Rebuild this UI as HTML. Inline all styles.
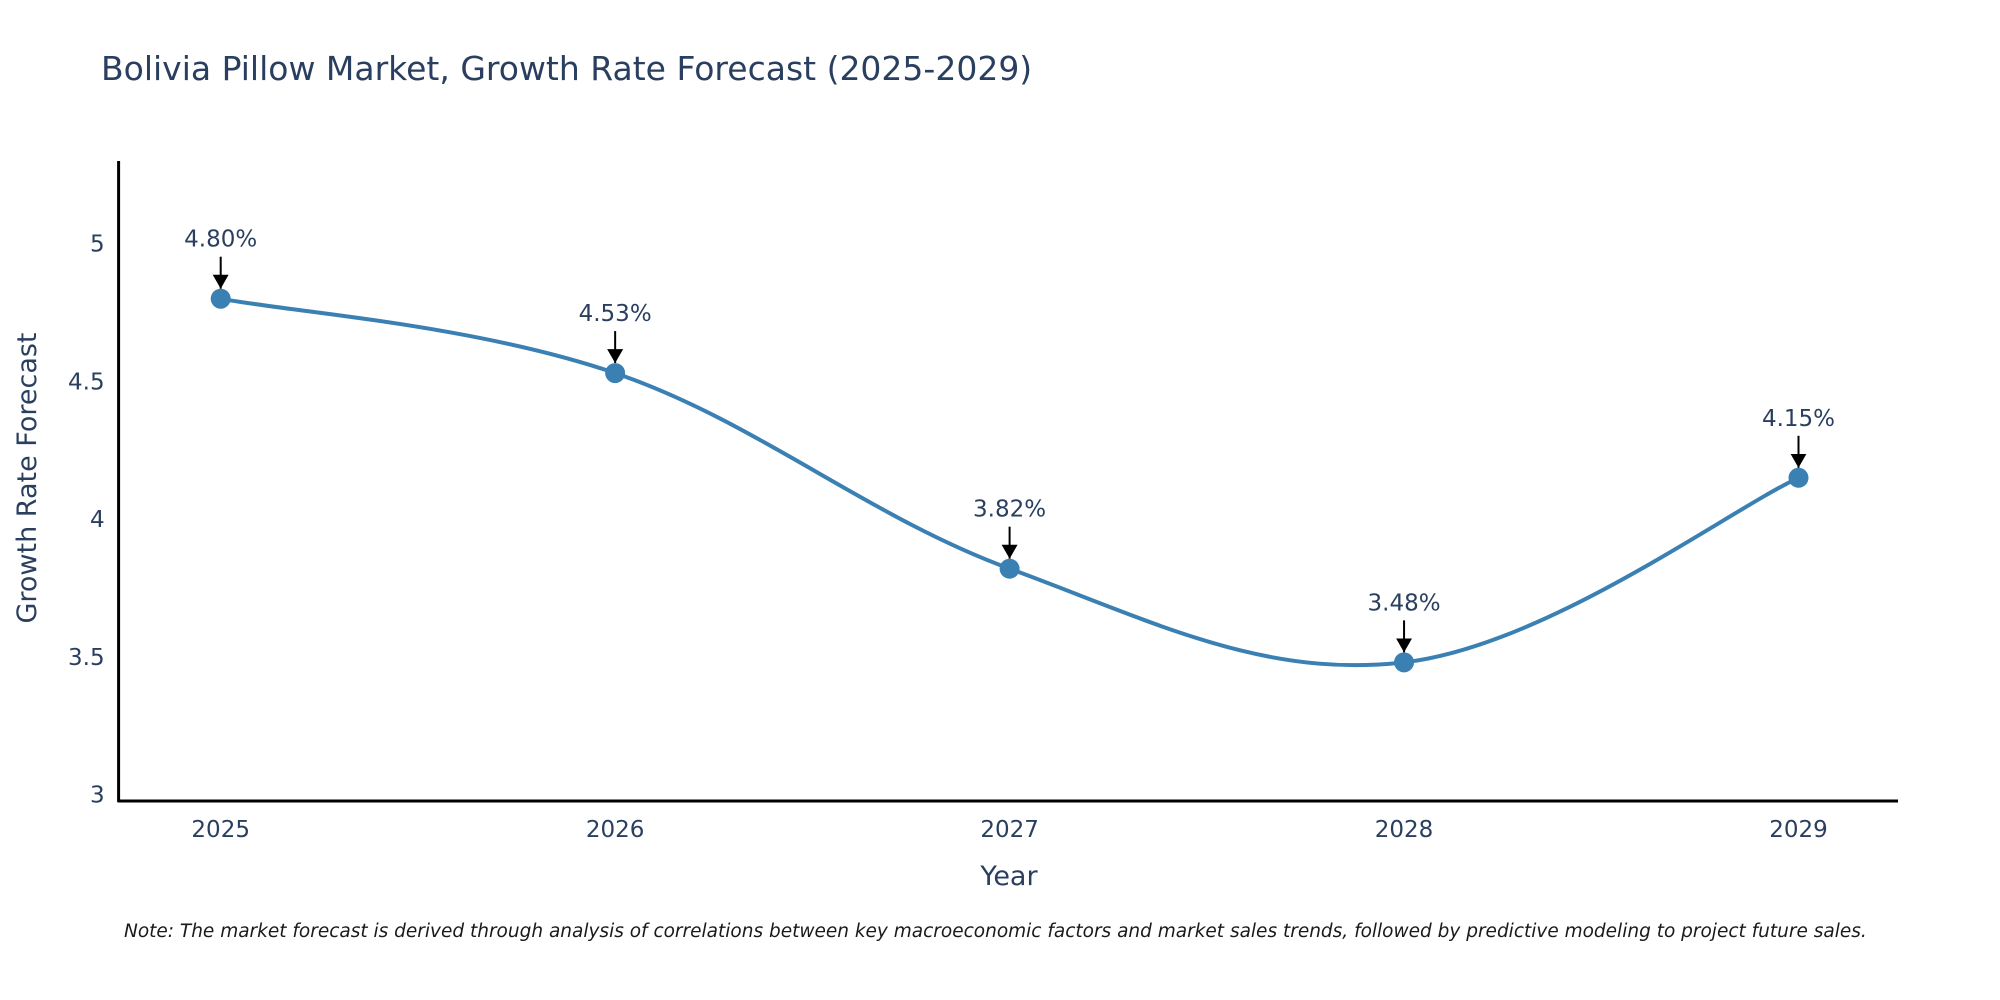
<!DOCTYPE html>
<html><head><meta charset="utf-8"><style>
html,body{margin:0;padding:0;background:#fff;}
svg{display:block;font-family:"DejaVu Sans","Liberation Sans",sans-serif;}
</style></head><body>
<svg id="chart" width="2000" height="1000" viewBox="0 0 2000 1000">
<defs>
<marker id="arr" markerWidth="16" markerHeight="14" refX="8" refY="14" orient="0" markerUnits="userSpaceOnUse"><path d="M0,0 L16,0 L8,14 z" fill="#000"/></marker></defs>
<text x="101" y="80" font-size="33" fill="#2a3f5f">Bolivia Pillow Market, Growth Rate Forecast (2025-2029)</text>
<g id="plot"></g>
<text x="36" y="478" font-size="27" fill="#2a3f5f" text-anchor="middle" transform="rotate(-90 36 478)">Growth Rate Forecast</text>
<text x="1009" y="885" font-size="27" fill="#2a3f5f" text-anchor="middle">Year</text>
<text x="124" y="937" font-size="18.5" font-style="italic" fill="#1a1a1a">Note: The market forecast is derived through analysis of correlations between key macroeconomic factors and market sales trends, followed by predictive modeling to project future sales.</text>
</svg>
<script>
const years = [2025, 2026, 2027, 2028, 2029];
const values = [4.80, 4.53, 3.82, 3.48, 4.15];
const labels = ["4.80%", "4.53%", "3.82%", "3.48%", "4.15%"];
const yTicks = [3, 3.5, 4, 4.5, 5];
const yTickLabels = ["3", "3.5", "4", "4.5", "5"];

const NS = "http://www.w3.org/2000/svg";
const g = document.getElementById("plot");
const X0 = 118.6, X1 = 1898, Ytop = 161, Ybot = 801;
function xs(v){ return 220.7 + (v - 2025) * 394.45; }
function ys(v){ return 794.6 - (v - 3) * 275.5; }
function mk(tag, attrs){ const e = document.createElementNS(NS, tag); for (const k in attrs) e.setAttribute(k, attrs[k]); g.appendChild(e); return e; }

yTicks.forEach((t, i) => {
  const e = mk("text", {x: X0 - 14, y: ys(t) + 8, "font-size": 23, fill: "#2a3f5f", "text-anchor": "end"});
  e.textContent = yTickLabels[i];
  
  
});
years.forEach(y => {
  const e = mk("text", {x: xs(y), y: Ybot + 36, "font-size": 23, fill: "#2a3f5f", "text-anchor": "middle"});
  e.textContent = String(y);
  
  
});
const ya = mk("line", {x1: X0, y1: Ytop, x2: X0, y2: Ybot + 1, stroke: "#000", "stroke-width": 3});


const xa = mk("line", {x1: X0 - 1, y1: Ybot, x2: X1, y2: Ybot, stroke: "#000", "stroke-width": 3});



const pts = years.map((y, i) => [xs(y), ys(values[i])]);
let d = "M" + pts[0][0] + "," + pts[0][1];
const t = 0.18;
for (let i = 0; i < pts.length - 1; i++) {
  const p0 = pts[Math.max(i - 1, 0)], p1 = pts[i], p2 = pts[i + 1], p3 = pts[Math.min(i + 2, pts.length - 1)];
  const c1 = [p1[0] + (p2[0] - p0[0]) * t, p1[1] + (p2[1] - p0[1]) * t];
  const c2 = [p2[0] - (p3[0] - p1[0]) * t, p2[1] - (p3[1] - p1[1]) * t];
  d += " C" + c1 + " " + c2 + " " + p2;
}
const line = mk("path", {d: d, fill: "none", stroke: "#3b80b3", "stroke-width": 4});



pts.forEach((p, i) => {
  const c = mk("circle", {cx: p[0], cy: p[1], r: 10, fill: "#3b80b3"});
  
  
  const a = mk("line", {x1: p[0], y1: p[1] - 42, x2: p[0], y2: p[1] - 10, stroke: "#000", "stroke-width": 2, "marker-end": "url(#arr)"});
  
  
  const tx = mk("text", {x: p[0], y: p[1] - 52, "font-size": 23, fill: "#2a3f5f", "text-anchor": "middle"});
  tx.textContent = labels[i];
  
  
});
</script>
</body></html>
